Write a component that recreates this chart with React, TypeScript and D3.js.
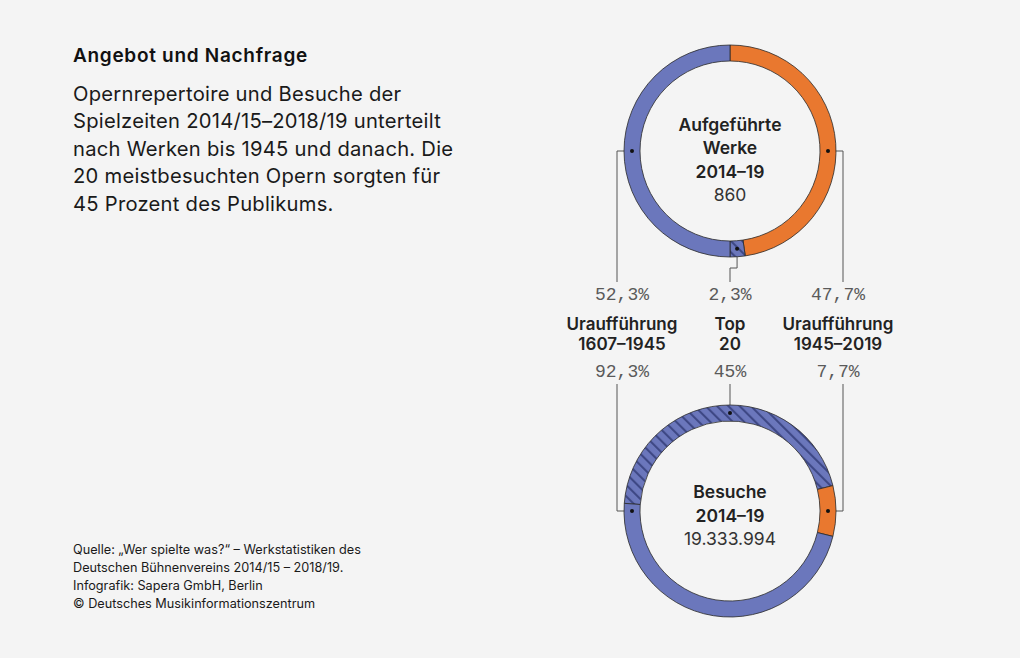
import * as d3 from "d3";

// Anteile in Prozent: [Uraufführung 1607–1945, Top 20, Uraufführung 1945–2019]
const groupLines = [
  ["Uraufführung", "1607–1945"],
  ["Top", "20"],
  ["Uraufführung", "1945–2019"],
];
const worksShare = [52.3, 2.3, 47.7];
const visitsShare = [92.3, 45, 7.7];

const worksCenter = ["Aufgeführte", "Werke", "2014–19"];
const worksTotal = "860";
const visitsCenter = ["Besuche", "2014–19"];
const visitsTotal = "19.333.994";

const title = "Angebot und Nachfrage";
const intro = [
  "Opernrepertoire und Besuche der",
  "Spielzeiten 2014/15–2018/19 unterteilt",
  "nach Werken bis 1945 und danach. Die",
  "20 meistbesuchten Opern sorgten für",
  "45 Prozent des Publikums.",
];
const source = [
  "Quelle: „Wer spielte was?“ – Werkstatistiken des",
  "Deutschen Bühnenvereins 2014/15 – 2018/19.",
  "Infografik: Sapera GmbH, Berlin",
  "© Deutsches Musikinformationszentrum",
];

const W = 1020;
const H = 658;
const BG = "#f4f4f4";
const BLUE = "#6b77bc";
const ORANGE = "#e9782f";
const STRIPE = "#3e4885";
const FONT = "Inter, 'Noto Sans', sans-serif";
const MONO = "'Liberation Mono', 'DejaVu Sans Mono', monospace";

const cx = 730;
const cyTop = 151;
const cyBot = 511;
const rOuter = 106;
const rInner = 90;
const rMid = (rOuter + rInner) / 2;
const colX = [622, 730, 838];
const lineX = [cx - 113, cx, cx + 113];

type Seg = { kind: "early" | "top" | "late"; value: number };

const fmtPct = (v: number) => String(v).replace(".", ",") + "%";

const arc = d3
  .arc<d3.PieArcDatum<Seg>>()
  .innerRadius(rInner)
  .outerRadius(rOuter);

const makePie = (start: number) =>
  d3
    .pie<Seg>()
    .value((d) => d.value)
    .sort(null)
    .startAngle(start)
    .endAngle(start + 2 * Math.PI);

const TAU = 2 * Math.PI;
const worksSegs: Seg[] = [
  { kind: "late", value: worksShare[2] },
  { kind: "top", value: worksShare[1] },
  { kind: "early", value: worksShare[0] - worksShare[1] },
];
const visitsSegs: Seg[] = [
  { kind: "top", value: visitsShare[1] },
  { kind: "late", value: visitsShare[2] },
  { kind: "early", value: visitsShare[0] - visitsShare[1] },
];
const worksArcs = makePie(0)(worksSegs);
// Besuche: orange Segment mittig rechts
const botStart =
  Math.PI / 2 - (visitsShare[2] / 200) * TAU - (visitsShare[1] / 100) * TAU;
const visitsArcs = makePie(botStart)(visitsSegs);

const polar = (cy: number, a: number, r: number): [number, number] => [
  cx + r * Math.sin(a),
  cy - r * Math.cos(a),
];

const fillFor = (k: Seg["kind"]) =>
  k === "late" ? ORANGE : k === "top" ? "url(#hatch)" : BLUE;

function Ring({ cy, arcs }: { cy: number; arcs: d3.PieArcDatum<Seg>[] }) {
  return (
    <g transform={`translate(${cx},${cy})`}>
      {arcs.map((a) => (
        <path
          key={a.data.kind}
          d={arc(a) ?? ""}
          fill={fillFor(a.data.kind)}
          stroke="#2a2a2a"
          strokeWidth={0.8}
        />
      ))}
    </g>
  );
}

export default function App() {
  const topSeg = worksArcs.find((a) => a.data.kind === "top")!;
  const topDot = polar(cyTop, (topSeg.startAngle + topSeg.endAngle) / 2, rMid);
  const yTopEnd = 282;
  const yBotStart = 384;

  const dots: [number, number][] = [
    polar(cyTop, -Math.PI / 2, rMid),
    polar(cyTop, Math.PI / 2, rMid),
    topDot,
    polar(cyBot, -Math.PI / 2, rMid),
    polar(cyBot, Math.PI / 2, rMid),
    polar(cyBot, 0, rMid),
  ];

  const links = [
    `M${dots[0][0]},${dots[0][1]}H${lineX[0]}V${yTopEnd}`,
    `M${dots[1][0]},${dots[1][1]}H${lineX[2]}V${yTopEnd}`,
    `M${topDot[0]},${topDot[1]}V${268}H${lineX[1]}V${yTopEnd}`,
    `M${lineX[0]},${yBotStart}V${cyBot}H${dots[3][0]}`,
    `M${lineX[2]},${yBotStart}V${cyBot}H${dots[4][0]}`,
    `M${lineX[1]},${yBotStart}V${dots[5][1]}`,
  ];

  return (
    <svg
      width={W}
      height={H}
      style={{ position: "fixed", left: 0, top: 0, background: BG }}
      fontFamily={FONT}
    >
      <defs>
        <pattern
          id="hatch"
          width={8}
          height={8}
          patternUnits="userSpaceOnUse"
          patternTransform="rotate(-45)"
        >
          <rect width={8} height={8} fill={BLUE} />
          <line x1={1} y1={0} x2={1} y2={8} stroke={STRIPE} strokeWidth={2.2} />
        </pattern>
      </defs>
      <rect width={W} height={H} fill={BG} />

      <text x={73} y={62} fontSize={19} fontWeight={600} letterSpacing={0.7} fill="#111">
        {title}
      </text>
      {intro.map((t, i) => (
        <text key={i} x={73} y={101 + i * 27.4} fontSize={20.2} letterSpacing={0.25} fill="#1a1a1a">
          {t}
        </text>
      ))}
      {source.map((t, i) => (
        <text key={i} x={73} y={554 + i * 18} fontSize={12.7} fill="#1a1a1a">
          {t}
        </text>
      ))}

      {links.map((d, i) => (
        <path key={i} d={d} fill="none" stroke="#555" strokeWidth={1} />
      ))}

      <Ring cy={cyTop} arcs={worksArcs} />
      <Ring cy={cyBot} arcs={visitsArcs} />

      {dots.map(([x, y], i) => (
        <circle key={i} cx={x} cy={y} r={2} fill="#111" />
      ))}

      <g textAnchor="middle">
        {worksCenter.map((t, i) => (
          <text key={i} x={cx} y={131 + i * 23.3} fontSize={17.5} fontWeight={600} fill="#222">
            {t}
          </text>
        ))}
        <text x={cx} y={201} fontSize={17.5} fill="#333">
          {worksTotal}
        </text>

        {visitsCenter.map((t, i) => (
          <text key={i} x={cx} y={498 + i * 23.5} fontSize={17.5} fontWeight={600} fill="#222">
            {t}
          </text>
        ))}
        <text x={cx} y={545} fontSize={17.5} fill="#333">
          {visitsTotal}
        </text>

        {groupLines.map((lines, i) => (
          <g key={i}>
            <text x={colX[i]} y={300} fontSize={18} fontFamily={MONO} fill="#5a5a5a">
              {fmtPct(worksShare[i])}
            </text>
            {lines.map((t, j) => (
              <text key={j} x={colX[i]} y={330 + j * 19.5} fontSize={17} fontWeight={600} fill="#222">
                {t}
              </text>
            ))}
            <text x={colX[i]} y={377} fontSize={18} fontFamily={MONO} fill="#5a5a5a">
              {fmtPct(visitsShare[i])}
            </text>
          </g>
        ))}
      </g>
    </svg>
  );
}
